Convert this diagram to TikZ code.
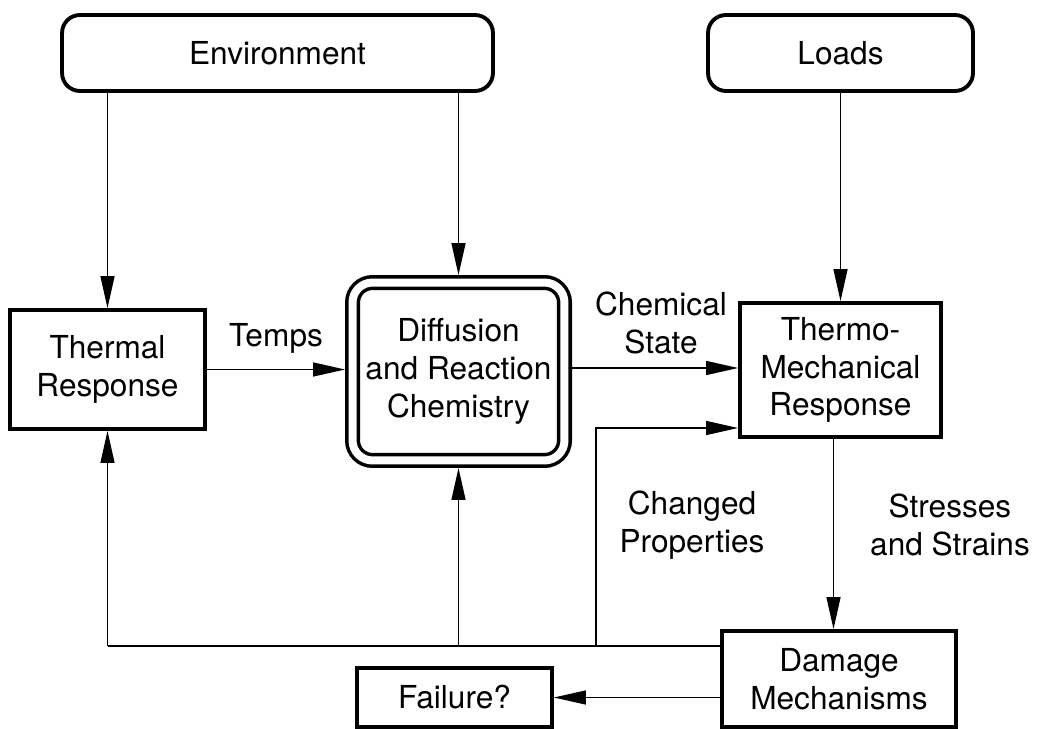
\documentclass[tikz,border=0pt]{standalone}
\usepackage{fontspec}
\setmainfont{TeX Gyre Heros}
\usetikzlibrary{arrows.meta}

\begin{document}
\begin{tikzpicture}[x=0.02cm,y=-0.02cm,
    font=\fontsize{18}{21.5}\selectfont,
    box/.style={draw,line width=2.2pt,align=center,inner sep=0pt},
    topbox/.style={box,rounded corners=0.36cm,minimum height=1.52cm},
    arr/.style={line width=0.8pt,-{Triangle[length=0.64cm,width=0.28cm]}},
    lbl/.style={align=center,inner sep=0pt}]
  \useasboundingbox (0,0) rectangle (1040,729);
  % sources
  \node[topbox,minimum width=8.62cm] (env) at (277.5,53) {Environment};
  \node[topbox,minimum width=5.3cm] (loads) at (840.5,53) {Loads};
  % process boxes
  \node[box,minimum width=3.9cm,minimum height=2.38cm] (thermal) at (107.5,369.5) {Thermal\\Response};
  \node[box,line width=2pt,double,double distance=0.16cm,rounded corners=0.4cm,
        minimum width=4.24cm,minimum height=3.56cm,outer sep=0.15cm] (diff) at (458.5,371.5)
        {Diffusion\\and Reaction\\Chemistry};
  \node[box,minimum width=4.02cm,minimum height=2.68cm] (thermo) at (840.5,370) {Thermo-\\Mechanical\\Response};
  \node[box,minimum width=4.68cm,minimum height=1.92cm] (damage) at (839,679) {Damage\\Mechanisms};
  \node[box,minimum width=3.9cm,minimum height=1.18cm] (failure) at (454.5,697.5) {Failure?};

  % inputs
  \draw[arr] (env.south -| thermal) -- (thermal.north);
  \draw[arr] (env.south -| diff) -- (diff.north);
  \draw[arr] (loads.south) -- (thermo.north);

  % forward flow
  \draw[arr] (thermal.east) -- (thermal.east -| diff.west);
  \node[lbl] (temps) at (276,338) {Temps};
  \draw[arr] (diff.east |- 0,368) -- (thermo.west |- 0,368);
  \node[lbl] (chem) at (661,323) {Chemical\\State};
  \draw[arr] ([xshift=-0.14cm]thermo.south) -- ([xshift=-0.14cm]thermo.south |- damage.north);
  \node[lbl] (stress) at (950,525) {Stresses\\and Strains};
  \draw[arr] (damage.west |- failure) -- (failure.east);

  % feedback of changed properties
  \coordinate (fb) at ([yshift=-0.34cm]damage.north west);
  \coordinate (br) at (596,428);
  \draw[line width=0.8pt] (fb) -- (fb -| thermal);
  \draw[arr] (fb -| thermal) -- (thermal.south);
  \draw[arr] (fb -| diff) -- (diff.south);
  \draw[arr] (fb -| br) |- (br -| thermo.west);
  \node[lbl] (props) at (692,525) {Changed\\Properties};
\end{tikzpicture}
\end{document}
